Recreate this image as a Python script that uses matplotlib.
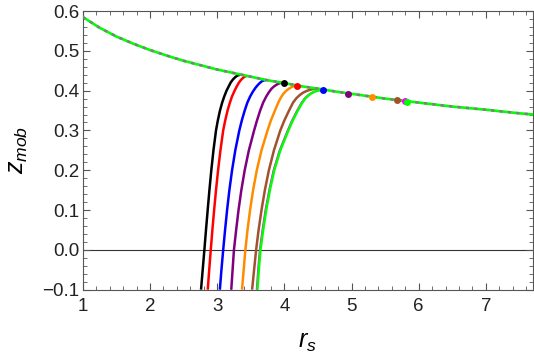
import matplotlib
matplotlib.use("Agg")
import matplotlib.pyplot as plt
from matplotlib.ticker import MultipleLocator, FuncFormatter

plt.rcParams['font.family'] = ['Liberation Sans', 'DejaVu Sans']
plt.rcParams['mathtext.fontset'] = 'custom'
plt.rcParams['mathtext.it'] = 'Liberation Sans:italic'
plt.rcParams['mathtext.rm'] = 'Liberation Sans'

# envelope
env_x = [1.0, 1.25, 1.5, 1.75, 2.0, 2.25, 2.5, 2.75, 3.0, 3.25, 3.5, 3.75,
         4.0, 4.25, 4.5, 4.75, 5.0, 5.5, 6.0, 6.5, 7.0, 7.5, 7.7]
env_y = [0.585, 0.558, 0.536, 0.518, 0.502, 0.488, 0.475, 0.464, 0.453, 0.444, 0.435, 0.426,
         0.419, 0.411, 0.405, 0.398, 0.392, 0.380, 0.370, 0.360, 0.352, 0.343, 0.340]

colors = ['black', 'red', 'blue', 'purple', 'darkorange', 'sienna', 'magenta', 'lime']

# lower part of every curve shares these y values
low_y = [-0.1, -0.05, 0.0, 0.05, 0.1, 0.15, 0.2, 0.25, 0.3, 0.325, 0.35]

black_x = [2.76, 2.785, 2.81, 2.834, 2.859, 2.885, 2.913, 2.945, 2.983, 3.01, 3.042,
           3.075, 3.105, 3.14, 3.17, 3.20, 3.235, 3.27, 3.305, 3.34]
black_y = low_y + [0.37, 0.385, 0.40, 0.41, 0.42, 0.428, 0.434, 0.438, 0.440]

red_x = [2.86, 2.882, 2.905, 2.929, 2.955, 2.983, 3.014, 3.049, 3.09, 3.12, 3.155,
         3.19, 3.22, 3.26, 3.29, 3.32, 3.35, 3.385, 3.41, 3.44]
red_y = low_y + [0.37, 0.385, 0.40, 0.41, 0.419, 0.426, 0.432, 0.435, 0.437]

blue_x = [3.04, 3.064, 3.09, 3.118, 3.148, 3.182, 3.222, 3.27, 3.33, 3.367, 3.41,
          3.45, 3.49, 3.53, 3.57, 3.61, 3.64, 3.67, 3.70, 3.73]
blue_y = low_y + [0.37, 0.385, 0.397, 0.407, 0.415, 0.42, 0.424, 0.426, 0.427]

purple_x = [3.21, 3.23, 3.25, 3.283, 3.318, 3.36, 3.41, 3.472, 3.55, 3.593, 3.64,
            3.685, 3.73, 3.77, 3.81, 3.85, 3.885, 3.92, 3.96]
purple_y = low_y + [0.37, 0.385, 0.396, 0.405, 0.411, 0.415, 0.418, 0.42]

orange_x = [3.37, 3.395, 3.42, 3.452, 3.49, 3.535, 3.59, 3.66, 3.75, 3.80, 3.86,
            3.91, 3.95, 3.99, 4.03, 4.07, 4.11, 4.15, 4.19]
orange_y = low_y + [0.37, 0.383, 0.393, 0.40, 0.405, 0.409, 0.412, 0.413]

brown_x = [3.52, 3.55, 3.58, 3.617, 3.66, 3.71, 3.77, 3.845, 3.94, 4.0, 4.07,
           4.13, 4.18, 4.23, 4.28, 4.33, 4.38, 4.43, 4.47]
brown_y = low_y + [0.37, 0.381, 0.389, 0.395, 0.399, 0.402, 0.404, 0.405]

magenta_x = [3.585, 3.605, 3.63, 3.67, 3.715, 3.77, 3.835, 3.925, 4.045, 4.11, 4.185,
             4.245, 4.295, 4.345, 4.395, 4.445, 4.485, 4.525, 4.565]
magenta_y = low_y + [0.368, 0.38, 0.388, 0.394, 0.398, 0.40, 0.401, 0.402]

green_x = [3.60, 3.62, 3.645, 3.685, 3.73, 3.785, 3.85, 3.94, 4.06, 4.125, 4.20,
           4.26, 4.31, 4.36, 4.41, 4.46, 4.50, 4.54, 4.58]
green_y = low_y + [0.368, 0.38, 0.388, 0.394, 0.398, 0.40, 0.401, 0.402]

curves_x = [black_x, red_x, blue_x, purple_x, orange_x, brown_x, magenta_x, green_x]
curves_y = [black_y, red_y, blue_y, purple_y, orange_y, brown_y, magenta_y, green_y]

dot_x = [4.0, 4.19, 4.58, 4.95, 5.31, 5.67, 5.80, 5.83]
dot_y = [0.418, 0.412, 0.401, 0.392, 0.384, 0.376, 0.373, 0.372]

fig = plt.figure(figsize=(5.34, 3.55), dpi=100)
ax = fig.add_axes([0.155, 0.184, 0.843, 0.785])

ax.axhline(0, color='#333333', lw=0.8, zorder=1)

for cx, cy, c in zip(curves_x, curves_y, colors):
    lw = 1.0 if c == 'magenta' else 1.8
    ax.plot(cx, cy, color=c, lw=lw, solid_capstyle='butt', solid_joinstyle='round', zorder=2)

ax.plot(env_x, env_y, color='lime', lw=1.9, zorder=3)
ax.plot(env_x, env_y, color='gray', lw=1.9, dashes=(1.2, 2.0), zorder=4)

for dx, dy, c in zip(dot_x, dot_y, colors):
    ax.plot(dx, dy, 'o', color=c, ms=5, mec='none', zorder=5)

ax.set_xlim(1, 7.7)
ax.set_ylim(-0.1, 0.6)
ax.xaxis.set_major_locator(MultipleLocator(1))
ax.xaxis.set_minor_locator(MultipleLocator(0.2))
ax.yaxis.set_major_locator(MultipleLocator(0.1))
ax.yaxis.set_minor_locator(MultipleLocator(0.02))
ax.yaxis.set_major_formatter(FuncFormatter(lambda v, p: ('%.1f' % v).replace('-', '\u2212')))

for s in ax.spines.values():
    s.set_color('#555555')
    s.set_linewidth(0.8)
ax.tick_params(which='both', direction='in', top=True, right=True, color='#555555',
               labelsize=13.5, labelcolor='#222222')
ax.tick_params(axis='x', which='major', pad=6)
ax.tick_params(axis='y', which='major', pad=2.5)
ax.tick_params(which='major', length=5, width=0.8)
ax.tick_params(which='minor', length=2.8, width=0.6)

ax.set_xlabel('$r_s$', fontsize=18, va='top')
ax.xaxis.set_label_coords(0.5, -0.145)
ax.set_ylabel('$z_{mob}$', fontsize=18)
ax.yaxis.set_label_coords(-0.118, 0.5)

fig.savefig('out.png', dpi=100)
